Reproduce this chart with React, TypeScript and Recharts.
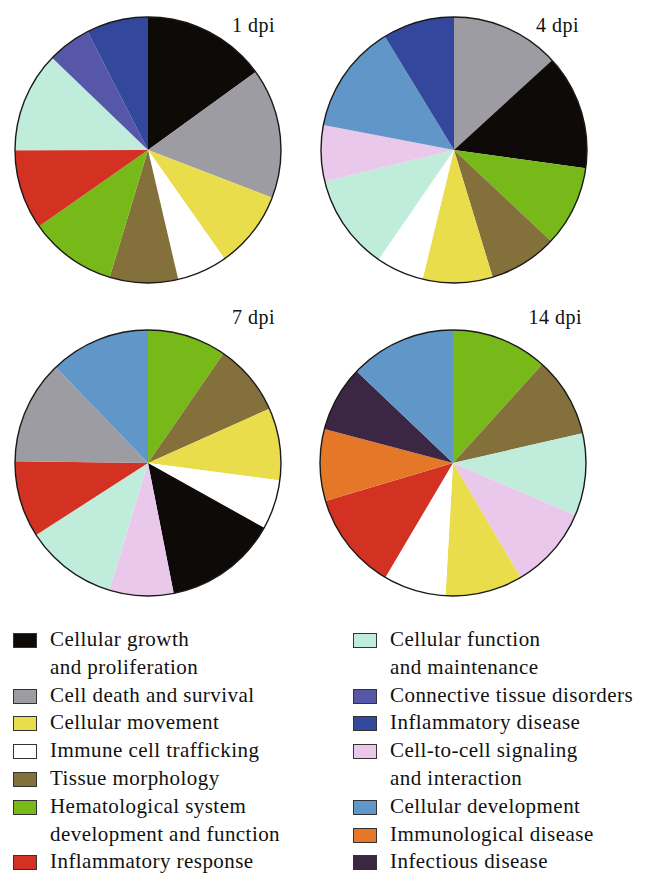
import { PieChart, Pie, Cell } from "recharts";

// category -> colour
const categoryNames = [
  "Cellular growth and proliferation",
  "Cell death and survival",
  "Cellular movement",
  "Immune cell trafficking",
  "Tissue morphology",
  "Hematological system development and function",
  "Inflammatory response",
  "Cellular function and maintenance",
  "Connective tissue disorders",
  "Inflammatory disease",
  "Cell-to-cell signaling and interaction",
  "Cellular development",
  "Immunological disease",
  "Infectious disease",
];
const categoryColors = [
  "#0d0a08",
  "#9d9ca2",
  "#e9dd4c",
  "#ffffff",
  "#84703a",
  "#77b918",
  "#d33222",
  "#c0ecdc",
  "#5657a9",
  "#33489c",
  "#e9c8ec",
  "#6196c8",
  "#e47828",
  "#3b2644",
];

// slices, clockwise from 12 o'clock (share of pie, %)
const dpi1Names = [
  "Cellular growth and proliferation",
  "Cell death and survival",
  "Cellular movement",
  "Immune cell trafficking",
  "Tissue morphology",
  "Hematological system development and function",
  "Inflammatory response",
  "Cellular function and maintenance",
  "Connective tissue disorders",
  "Inflammatory disease",
];
const dpi1Values = [15.0, 15.8, 9.4, 6.1, 8.3, 10.6, 9.7, 12.2, 5.3, 7.5];

const dpi4Names = [
  "Cell death and survival",
  "Cellular growth and proliferation",
  "Hematological system development and function",
  "Tissue morphology",
  "Cellular movement",
  "Immune cell trafficking",
  "Cellular function and maintenance",
  "Cell-to-cell signaling and interaction",
  "Cellular development",
  "Inflammatory disease",
];
const dpi4Values = [13.2, 14.0, 9.8, 8.3, 8.5, 5.8, 11.6, 6.8, 13.3, 8.7];

const dpi7Names = [
  "Hematological system development and function",
  "Tissue morphology",
  "Cellular movement",
  "Immune cell trafficking",
  "Cellular growth and proliferation",
  "Cell-to-cell signaling and interaction",
  "Cellular function and maintenance",
  "Inflammatory response",
  "Cell death and survival",
  "Cellular development",
];
const dpi7Values = [9.6, 8.7, 8.8, 6.0, 13.8, 7.8, 11.2, 9.3, 12.6, 12.2];

const dpi14Names = [
  "Hematological system development and function",
  "Tissue morphology",
  "Cellular function and maintenance",
  "Cell-to-cell signaling and interaction",
  "Cellular movement",
  "Immune cell trafficking",
  "Inflammatory response",
  "Immunological disease",
  "Infectious disease",
  "Cellular development",
];
const dpi14Values = [11.7, 9.7, 10.0, 10.1, 9.4, 7.6, 11.9, 8.7, 8.0, 12.9];

const panelTitles = ["1 dpi", "4 dpi", "7 dpi", "14 dpi"];

// legend columns
const legendLeft = [
  ["Cellular growth", "and proliferation"],
  ["Cell death and survival"],
  ["Cellular movement"],
  ["Immune cell trafficking"],
  ["Tissue morphology"],
  ["Hematological system", "development and function"],
  ["Inflammatory response"],
];
const legendRight = [
  ["Cellular function", "and maintenance"],
  ["Connective tissue disorders"],
  ["Inflammatory disease"],
  ["Cell-to-cell signaling", "and interaction"],
  ["Cellular development"],
  ["Immunological disease"],
  ["Infectious disease"],
];

const colorOf = (name: string) => categoryColors[categoryNames.indexOf(name)];
const toRows = (names: string[], values: number[]) =>
  names.map((name, i) => ({ name, value: values[i] }));
const keyOf = (lines: string[]) => lines.join(" ");

const FONT = "'Liberation Serif', 'DejaVu Serif', serif";
const R = 133;
const BOX = 300;

// each panel box is 300x300 with the pie at its centre
const panels = [
  { data: toRows(dpi1Names, dpi1Values), left: -2, top: 0, titleRight: 372, titleTop: 14 },
  { data: toRows(dpi4Names, dpi4Values), left: 304, top: 0, titleRight: 68, titleTop: 14 },
  { data: toRows(dpi7Names, dpi7Values), left: -2, top: 313, titleRight: 372, titleTop: 306 },
  { data: toRows(dpi14Names, dpi14Values), left: 303, top: 313, titleRight: 65, titleTop: 306 },
];

function LegendColumn({ items, left, boxLeft }: { items: string[][]; left: number; boxLeft: number }) {
  return (
    <div style={{ position: "absolute", left: 0, top: 626, width: 647 }}>
      {items.map((lines) => (
        <div key={keyOf(lines)} style={{ position: "relative", lineHeight: "27.8px" }}>
          <div
            style={{
              position: "absolute",
              left: boxLeft,
              top: 7,
              width: 22,
              height: 13,
              background: colorOf(keyOf(lines)),
              border: "1px solid #333",
            }}
          />
          <div style={{ marginLeft: left, fontSize: 21, letterSpacing: 0.45, color: "#111" }}>
            {lines.map((l) => (
              <div key={l}>{l}</div>
            ))}
          </div>
        </div>
      ))}
    </div>
  );
}

const noMargin = { top: 0, right: 0, bottom: 0, left: 0 };

function PiePanel({ data }: { data: { name: string; value: number }[] }) {
  return (
    <div style={{ position: "relative", width: BOX, height: BOX }}>
      <PieChart width={BOX} height={BOX} margin={noMargin}>
        <Pie
          data={data}
          dataKey="value"
          nameKey="name"
          cx="50%"
          cy="50%"
          outerRadius={R}
          startAngle={90}
          endAngle={-270}
          stroke="none"
          isAnimationActive={false}
        >
          {data.map((d) => (
            <Cell key={d.name} fill={colorOf(d.name)} stroke="none" />
          ))}
        </Pie>
      </PieChart>
      {/* thin outline round the pie */}
      <svg
        width={BOX}
        height={BOX}
        style={{ position: "absolute", left: 0, top: 0, pointerEvents: "none" }}
      >
        <circle cx={BOX / 2} cy={BOX / 2} r={R} fill="none" stroke="#1a1a1a" strokeWidth={1.4} />
      </svg>
    </div>
  );
}

export default function App() {
  return (
    <div
      style={{
        position: "absolute",
        left: 0,
        top: 0,
        width: 647,
        height: 887,
        background: "#fff",
        fontFamily: FONT,
      }}
    >
      {panels.map((p, k) => (
        <div key={`panel-${k}`} style={{ position: "absolute", left: p.left, top: p.top }}>
          <PiePanel data={p.data} />
        </div>
      ))}
      {panels.map((p, k) => (
        <div
          key={panelTitles[k]}
          style={{
            position: "absolute",
            right: p.titleRight,
            top: p.titleTop,
            fontSize: 20,
            letterSpacing: 0.5,
            color: "#111",
          }}
        >
          {panelTitles[k]}
        </div>
      ))}
      <LegendColumn items={legendLeft} left={50} boxLeft={13} />
      <LegendColumn items={legendRight} left={390} boxLeft={353} />
    </div>
  );
}
